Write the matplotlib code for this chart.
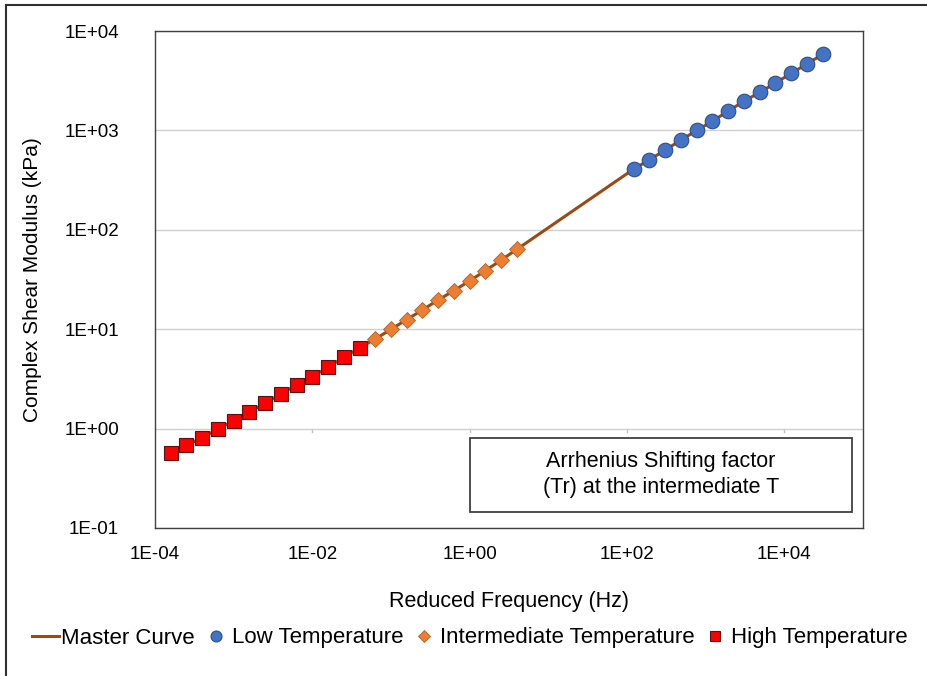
import numpy as np
import matplotlib
matplotlib.use("Agg")
import matplotlib.pyplot as plt
from matplotlib.ticker import FixedLocator, FuncFormatter
from matplotlib.lines import Line2D
from matplotlib.patches import Rectangle

plt.rcParams['font.family'] = ['Liberation Sans', 'DejaVu Sans']

# ---- data ----
high_freq = [1.58e-04, 2.51e-04, 3.98e-04, 6.31e-04, 1.00e-03, 1.58e-03, 2.51e-03,
             3.98e-03, 6.31e-03, 1.00e-02, 1.58e-02, 2.51e-02, 3.98e-02]
high_g = [0.564, 0.68, 0.81, 0.99, 1.20, 1.47, 1.80, 2.23, 2.75, 3.33, 4.14, 5.21, 6.49]

inter_freq = [6.31e-02, 1.00e-01, 1.58e-01, 2.51e-01, 3.98e-01, 6.31e-01,
              1.00e+00, 1.58e+00, 2.51e+00, 3.98e+00]
inter_g = [7.97, 9.97, 12.5, 15.6, 19.7, 24.4, 30.7, 38.7, 49.6, 63.6]

low_freq = [1.22e+02, 1.93e+02, 3.07e+02, 4.86e+02, 7.71e+02, 1.22e+03, 1.93e+03,
            3.07e+03, 4.86e+03, 7.71e+03, 1.22e+04, 1.93e+04, 3.07e+04]
low_g = [409, 507, 635, 800, 1002, 1236, 1567, 1963, 2416, 2997, 3750, 4656, 5835]

master_freq = high_freq + inter_freq + low_freq
master_g = high_g + inter_g + low_g

x_ticks = [1e-4, 1e-2, 1e0, 1e2, 1e4]
y_ticks = [1e-1, 1e0, 1e1, 1e2, 1e3, 1e4]

series_labels = ["Master Curve", "Low Temperature", "Intermediate Temperature", "High Temperature"]
x_label = "Reduced Frequency (Hz)"
y_label = "Complex Shear Modulus (kPa)"
note_text = "Arrhenius Shifting factor\n(Tr) at the intermediate T"

# ---- figure ----
fig = plt.figure(figsize=(9.28, 6.76), dpi=100)
ax = fig.add_axes([155/928, 1-528/676, (863-155)/928, (528-31)/676])

ax.set_xscale('log')
ax.set_yscale('log')
ax.set_xlim(1e-4, 1e5)
ax.set_ylim(1e-1, 1e4)

ax.plot(master_freq, master_g, color='#9C4A14', lw=2.2, zorder=3, label=series_labels[0])
ax.plot(low_freq, low_g, linestyle='none', marker='o', ms=10.5, mfc='#4472C4',
        mec='#2F4F7F', mew=0.8, zorder=4, label=series_labels[1])
ax.plot(inter_freq, inter_g, linestyle='none', marker='D', ms=8, mfc='#ED7D31',
        mec='#B0622A', mew=0.6, zorder=4, label=series_labels[2])
ax.plot(high_freq, high_g, linestyle='none', marker='s', ms=10.5, mfc='#FF0000',
        mec='#5A1010', mew=0.8, zorder=4, label=series_labels[3])

ax.xaxis.set_major_locator(FixedLocator(x_ticks))
ax.yaxis.set_major_locator(FixedLocator(y_ticks))
ax.xaxis.set_minor_locator(FixedLocator([]))
ax.yaxis.set_minor_locator(FixedLocator([]))
fmt = FuncFormatter(lambda v, p: "1E{:+03d}".format(int(round(np.log10(v)))))
ax.xaxis.set_major_formatter(fmt)
ax.yaxis.set_major_formatter(fmt)

ax.tick_params(axis='both', length=0, labelsize=13.5, colors='#000000')
ax.tick_params(axis='x', pad=13)
ax.tick_params(axis='y', pad=26)

ax.grid(axis='y', color='#D0D0D0', lw=1.0, zorder=0)
ax.grid(axis='x', visible=False)

# tick marks where the horizontal axis crosses at 1
for t in x_ticks[1:]:
    ax.plot([t, t], [1.0, 10**-0.035], color='#BFBFBF', lw=1.0, zorder=1)

for s in ax.spines.values():
    s.set_color('#404040')
    s.set_linewidth(1.0)

ax.set_xlabel(x_label, fontsize=15.5, labelpad=20)
ax.set_ylabel(y_label, fontsize=15, labelpad=16)

# annotation box
ax.add_patch(Rectangle((0.445, 0.032), 0.539, 0.149, transform=ax.transAxes,
                       fc='white', ec='#404040', lw=1.3, zorder=5))
ax.text(0.7145, 0.107, note_text, transform=ax.transAxes, ha='center', va='center',
        fontsize=15.5, linespacing=1.3, zorder=6)

leg = fig.legend(loc='center', bbox_to_anchor=(470/928, 1-638/676), ncol=4,
                 frameon=False, fontsize=16, handlelength=1.2, handletextpad=0.1,
                 columnspacing=0.35, markerscale=0.75, borderpad=0.2)

# outer border
fig.add_artist(Line2D([6/928, 6/928], [0, 1-5/676], transform=fig.transFigure,
                      color='#303030', lw=1.5))
fig.add_artist(Line2D([6/928, 1], [1-5/676, 1-5/676], transform=fig.transFigure,
                      color='#303030', lw=1.5))

fig.savefig("out.png", dpi=100)
